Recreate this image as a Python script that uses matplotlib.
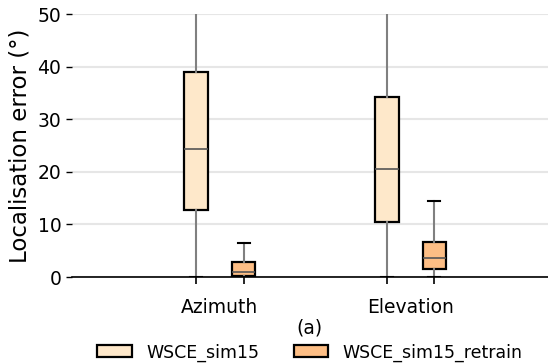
import matplotlib
matplotlib.use("Agg")
import matplotlib.pyplot as plt
from matplotlib.patches import Patch

# data (degrees)
groups = ["Azimuth", "Elevation"]
models = ["WSCE_sim15", "WSCE_sim15_retrain"]
colors = ["#fee8ca", "#fdbe85"]

# per model: [Azimuth, Elevation]
med = {"WSCE_sim15": [24.4, 20.5], "WSCE_sim15_retrain": [1.0, 3.6]}
q1 = {"WSCE_sim15": [12.7, 10.5], "WSCE_sim15_retrain": [0.25, 1.6]}
q3 = {"WSCE_sim15": [39.0, 34.2], "WSCE_sim15_retrain": [2.8, 6.7]}
whis_lo = {"WSCE_sim15": [0.0, 0.0], "WSCE_sim15_retrain": [0.0, 0.0]}
whis_hi = {"WSCE_sim15": [72.0, 68.0], "WSCE_sim15_retrain": [6.5, 14.4]}

offsets = [-0.125, 0.125]
box_w = 0.125

fig = plt.figure(figsize=(5.48, 3.64), dpi=100)
ax = fig.add_axes([0.131, 0.239, 0.869, 0.7225])

box_positions = []
for m, off, col in zip(models, offsets, colors):
    stats = []
    pos = []
    for i, g in enumerate(groups):
        stats.append(dict(med=med[m][i], q1=q1[m][i], q3=q3[m][i],
                          whislo=whis_lo[m][i], whishi=whis_hi[m][i],
                          fliers=[], label=g))
        pos.append(i + off)
    box_positions += pos
    ax.bxp(stats, positions=pos, widths=box_w, patch_artist=True,
           showfliers=False, manage_ticks=False,
           boxprops=dict(facecolor=col, edgecolor="black", linewidth=1.6),
           whiskerprops=dict(color="#808080", linewidth=1.5),
           capprops=dict(color="black", linewidth=1.5),
           medianprops=dict(color="#555555", linewidth=1.2))

ax.set_ylim(0, 50)
ax.set_xlim(-0.775, 1.72)
ax.set_yticks([0, 10, 20, 30, 40, 50])
ax.yaxis.grid(True, color="#e6e6e6", linewidth=1.5)
ax.set_axisbelow(True)

ax.set_xticks(range(len(groups)))
ax.set_xticklabels(groups, fontsize=13.5)
ax.set_xticks(sorted(box_positions), minor=True)
ax.tick_params(axis="x", which="major", length=0, pad=15)
ax.tick_params(axis="x", which="minor", length=5, width=1.2, color="black")
ax.tick_params(axis="y", labelsize=13.5, length=4, width=1, color="black")

for s in ["top", "right", "left"]:
    ax.spines[s].set_visible(False)
ax.spines["bottom"].set_linewidth(1.2)

ax.set_ylabel("Localisation error (°)", fontsize=16.5)
ax.set_xlabel("(a)", fontsize=13.5, labelpad=1)

handles = [Patch(facecolor=c, edgecolor="black", linewidth=1.6, label=m)
           for m, c in zip(models, colors)]
ax.legend(handles=handles, loc="center", bbox_to_anchor=(0.5, -0.287),
          ncol=2, frameon=False, fontsize=12.5, columnspacing=2.0,
          handlelength=2.0, handletextpad=0.8)

fig.savefig("out.png", dpi=100)
